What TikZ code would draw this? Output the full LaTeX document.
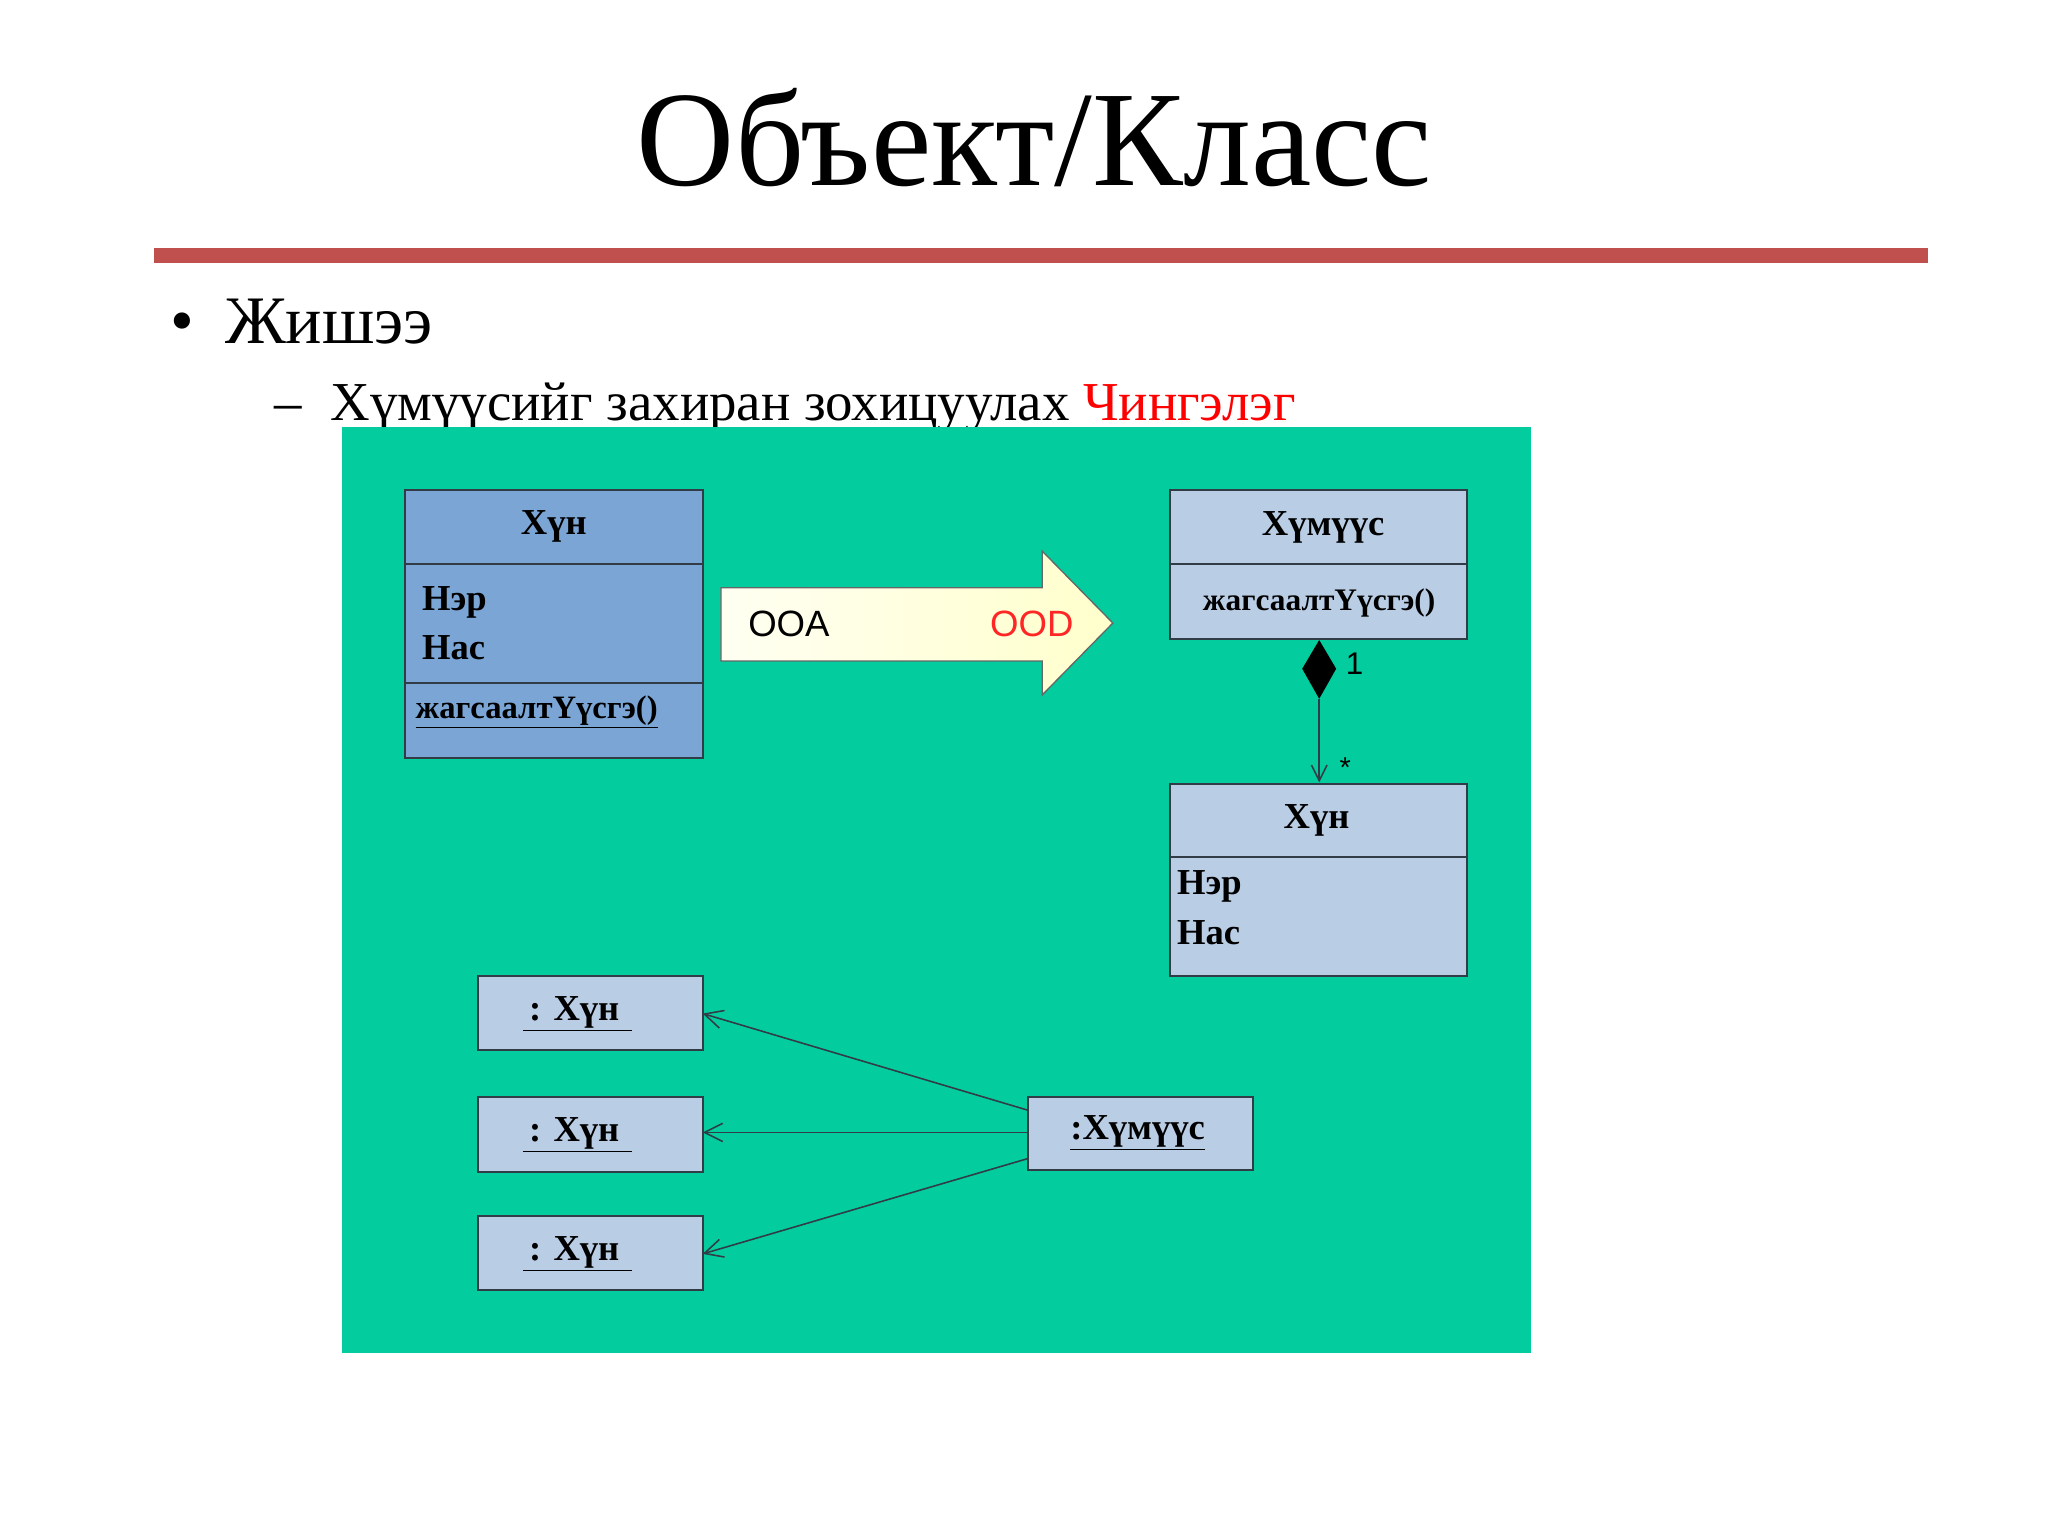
\documentclass[tikz,border=0pt]{standalone}
\usepackage{fontspec}
\setmainfont{Liberation Serif}
\newfontfamily\sansf{Liberation Sans}
\usetikzlibrary{arrows.meta,shapes.geometric}
\definecolor{redline}{RGB}{192,80,77}
\definecolor{bg}{RGB}{3,204,158}
\definecolor{dblue}{RGB}{122,165,212}
\definecolor{lblue}{RGB}{185,205,229}
\definecolor{bord}{RGB}{50,60,70}
\begin{document}
\begin{tikzpicture}[x=1pt,y=-1pt,
 cls/.style={draw=bord,line width=1.5pt},
 tx/.style={font=\fontsize{28}{30}\selectfont\bfseries,inner sep=0pt},
 conn/.style={draw=bord,line width=1.2pt,-{Straight Barb[length=14pt,width=14pt,line width=1.2pt]}}]
\useasboundingbox (0,0) rectangle (1568,1176);
\fill[white] (0,0) rectangle (1568,1176);
\node[font=\fontsize{104}{110}\selectfont] (title) at (792,105) {Объект/Класс};
\fill[redline] (118,190) rectangle (1476,201);
\node[font=\fontsize{52}{56}\selectfont,anchor=base west,inner sep=0pt] (b1) at (130,263) {•\hspace{24pt}Жишээ};
\node[font=\fontsize{42}{46}\selectfont,anchor=base west,inner sep=0pt] (b2) at (210,322) {–\hspace{22pt}Хүмүүсийг захиран зохицуулах \textcolor{red}{Чингэлэг}};
\fill[bg] (262,327) rectangle (1172,1036);
% left class
\fill[dblue] (310,375) rectangle (538,580);
\draw[cls] (310,375) rectangle (538,580);
\draw[cls] (310,432) -- (538,432);
\draw[cls] (310,523) -- (538,523);
\node[tx] (h1) at (424,403) {Хүн};
\node[tx,anchor=west] (n1) at (323,461) {Нэр};
\node[tx,anchor=west] (a1) at (323,496) {Нас};
\node[tx,anchor=west,font=\fontsize{25}{27}\selectfont\bfseries] (o1) at (318,545) {\underline{жагсаалтҮүсгэ()}};
% arrow
\shade[left color=yellow!5,right color=yellow!20!white,draw=gray!80!black,line width=1pt]
 (552,450) -- (798,450) -- (798,422) -- (852,477) -- (798,532) -- (798,506) -- (552,506) -- cycle;
\node[font=\sansf\fontsize{28}{30}\selectfont] (ooa) at (604,478) {OOA};
\node[font=\sansf\fontsize{28}{30}\selectfont,text=red!85!white] (ood) at (790,478) {OOD};
% right classes
\fill[lblue] (896,375) rectangle (1123,489);
\draw[cls] (896,375) rectangle (1123,489);
\draw[cls] (896,432) -- (1123,432);
\node[tx] (h2) at (1013,404) {Хүмүүс};
\node[tx,font=\fontsize{24}{26}\selectfont\bfseries] (o2) at (1010,462) {жагсаалтҮүсгэ()};
\fill[lblue] (896,600) rectangle (1123,747);
\draw[cls] (896,600) rectangle (1123,747);
\draw[cls] (896,656) -- (1123,656);
\node[tx] (h3) at (1008,628) {Хүн};
\node[tx,anchor=west] (n3) at (901,679) {Нэр};
\node[tx,anchor=west] (a3) at (901,714) {Нас};
\coordinate (dtop) at (1010,490);
\coordinate (htop) at (1010,599);
\fill[black] (1010,490) -- (1023,512) -- (1010,535) -- (997,512) -- cycle;
\draw[conn,-{Straight Barb[length=12pt,width=12pt,line width=1.2pt]}] (1010,535) -- (htop);
\node[font=\sansf\fontsize{24}{26}\selectfont] (one) at (1037,508) {1};
\node[font=\sansf\fontsize{22}{24}\selectfont] (star) at (1030,588) {*};
% objects
\foreach \n/\y in {o1/747,o2/840,o3/931}{
 \fill[lblue] (366,\y) rectangle (538,\y+57);
 \draw[cls] (366,\y) rectangle (538,\y+57);
 \node[tx] (\n) at (442,\y+29) {\underline{\,: Хүн\,\,}};
 \coordinate (\n e) at (538,\y+29);
}
\fill[lblue] (787,840) rectangle (959,896);
\draw[cls] (787,840) rectangle (959,896);
\node[tx] (hm) at (871,867) {\underline{:Хүмүүс}};
\coordinate (s1) at (787,850);
\coordinate (s2) at (787,867);
\coordinate (s3) at (787,887);
\draw[conn] (s1) -- (538,776);
\draw[conn] (s2) -- (538,867);
\draw[conn] (s3) -- (538,960);
\end{tikzpicture}
\end{document}
